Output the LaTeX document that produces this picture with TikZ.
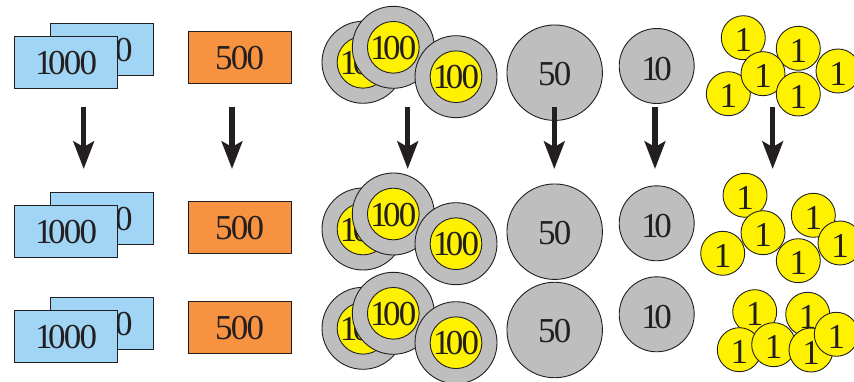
\documentclass[tikz,border=0pt]{standalone}
\usepackage{fontspec}
\setmainfont[LetterSpace=-5]{Liberation Serif}
\usetikzlibrary{arrows.meta}
\definecolor{ink}{HTML}{231F20}
\definecolor{billblue}{HTML}{A0D5F5}
\definecolor{billorange}{HTML}{F79241}
\definecolor{coingrey}{HTML}{BEBEBE}
\definecolor{coinyellow}{HTML}{FFF200}
\newcommand{\dn}[2]{\raisebox{-#1pt}[\height][0pt]{#2}}
\newcommand{\thou}{\dn{.7}{1\kern-4.5pt 000}}
\newcommand{\hund}{\dn{.6}{1\kern-4.5pt 00}}
\newcommand{\tenn}{\dn{2.5}{1\kern-4.5pt 0}}
\newcommand{\fif}{\dn{1.3}{50}}
\newcommand{\fivh}{\dn{.7}{500}}
\newcommand{\uno}{\dn{2.7}{1}}
\tikzset{
  every node/.style={text=ink,font=\fontsize{35}{37}\selectfont,inner sep=0pt,outer sep=0pt},
  bill/.style={draw=ink,line width=.9pt,rectangle,minimum width=103pt,minimum height=52pt},
  bluebill/.style={bill,fill=billblue},
  orangebill/.style={bill,fill=billorange},
  ringcoin/.style={circle,draw=ink,line width=.9pt,fill=coingrey,minimum size=82pt},
  corecoin/.style={circle,draw=ink,line width=.9pt,fill=coinyellow,minimum size=51.5pt},
  bigcoin/.style={circle,draw=ink,line width=.9pt,fill=coingrey,minimum size=95.5pt},
  tencoin/.style={circle,draw=ink,line width=.9pt,fill=coingrey,minimum size=75pt},
  onecoin/.style={circle,draw=ink,line width=.9pt,fill=coinyellow,minimum size=44pt},
  downarrow/.style={draw=ink,line width=5.4pt,-{Stealth[length=27.5pt,width=20.5pt,inset=5.5pt]}}
}
\newcommand{\billpair}[3]{%
  \node[bluebill] (#1b) at (101.5,#2) {\thou};
  \node[bluebill] (#1f) at (66,#3) {\thou};}
\newcommand{\ringtrio}[4]{%
  \node[ringcoin] (#1ar) at (363,#2) {};
  \node[corecoin] (#1a) at (#1ar.center) {\hund};
  \node[ringcoin] (#1br) at (393.3,#3) {};
  \node[corecoin] (#1b) at (#1br.center) {\hund};
  \node[ringcoin] (#1cr) at (456,#4) {};
  \node[corecoin] (#1c) at (#1cr.center) {\hund};}
\begin{document}
\begin{tikzpicture}[x=1pt,y=-1pt]
\useasboundingbox (0,0) rectangle (854,382);
% row 1
\billpair{ka}{49.5}{62.5}
\node[orangebill] (oa) at (239.7,57.3) {\fivh};
\ringtrio{ra}{62.3}{47.3}{76.7}
\node[bigcoin] (fa) at (554.7,72.7) {\fif};
\node[tencoin] (ta) at (656.7,66) {\tenn};
\node[onecoin] (a1) at (743.3,37.7) {\uno};
\node[onecoin] (a2) at (728.3,93.7) {\uno};
\node[onecoin] (a3) at (798.3,48.3) {\uno};
\node[onecoin] (a4) at (763,73.7) {\uno};
\node[onecoin] (a5) at (798.3,94) {\uno};
\node[onecoin] (a6) at (838,71) {\uno};
% row 2
\billpair{kb}{218}{231.2}
\node[orangebill] (ob) at (239.7,227.3) {\fivh};
\ringtrio{rb}{229}{214}{243.7}
\node[bigcoin] (fb) at (554.7,231.7) {\fif};
\node[tencoin] (tb) at (656.7,223.3) {\tenn};
\node[onecoin] (b1) at (745,195.3) {\uno};
\node[onecoin] (b2) at (722.7,253.3) {\uno};
\node[onecoin] (b3) at (763,232.7) {\uno};
\node[onecoin] (b4) at (813.3,215.3) {\uno};
\node[onecoin] (b5) at (798.3,260.7) {\uno};
\node[onecoin] (b6) at (840,243) {\uno};
% row 3
\billpair{kc}{323}{336.2}
\node[orangebill] (oc) at (239.7,327.3) {\fivh};
\ringtrio{rc}{328.3}{313.3}{342.7}
\node[bigcoin] (fc) at (554.7,330) {\fif};
\node[tencoin] (tc) at (656.7,314.3) {\tenn};
\node[onecoin] (c1) at (754.7,311.7) {\uno};
\node[onecoin] (c2) at (807.7,314.3) {\uno};
\node[onecoin] (c3) at (739.3,349.7) {\uno};
\node[onecoin] (c5) at (773.7,344.7) {\uno};
\node[onecoin] (c4) at (811,350) {\uno};
\node[onecoin] (c6) at (836.3,334.3) {\uno};
% arrows
\foreach \n/\x in {p/83.7,q/232,r/407.7,s/554.3,t/655,u/772.7}{
  \coordinate (\n top) at (\x,106.7);
  \coordinate (\n bot) at (\x,169);
  \draw[downarrow] (\n top) -- (\n bot);
}
\end{tikzpicture}
\end{document}
